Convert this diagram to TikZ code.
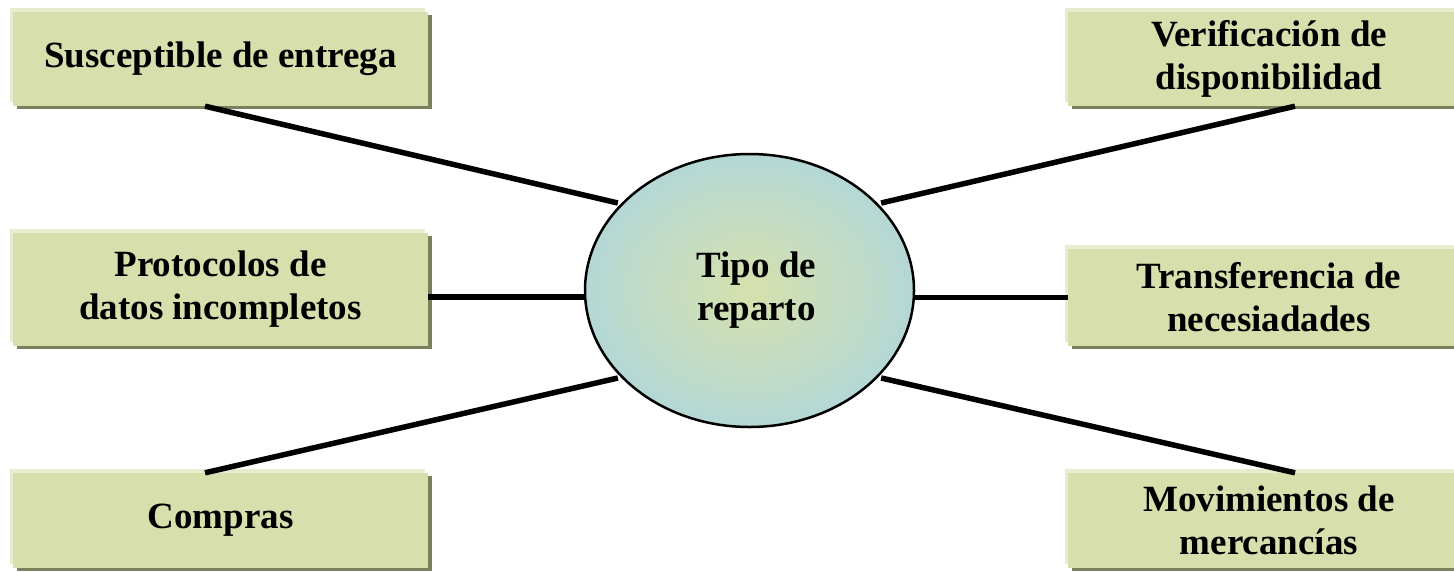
\documentclass[tikz,border=0pt]{standalone}
\usepackage{fontspec}
\setmainfont{Liberation Serif}
\usetikzlibrary{shapes.geometric,shadows}
\definecolor{boxfill}{RGB}{215,224,173}
\definecolor{boxshade}{RGB}{124,126,92}
\definecolor{boxlight}{RGB}{231,236,206}
\definecolor{hubout}{RGB}{180,216,214}
\definecolor{hubin}{RGB}{214,225,172}
\begin{document}
\begin{tikzpicture}[x=1pt,y=-1pt,
  lbl/.style={font=\fontsize{37}{43}\selectfont\bfseries, align=center, text=black},
  tbox/.style={lbl, rectangle, inner sep=0pt, fill=boxfill,
    general shadow={shadow xshift=-3pt, shadow yshift=4pt, fill=boxlight},
    general shadow={shadow xshift=4pt, shadow yshift=-3pt, fill=boxshade}},
  link/.style={line width=5.5pt, black, shorten >=3pt},
]
\useasboundingbox (0,0) rectangle (1454,571);
\clip (0,0) rectangle (1454,571);
\fill[white] (0,0) rectangle (1454,571);

\node[tbox, minimum width=415pt, minimum height=94pt] (A) at (220.5,59) {Susceptible de entrega};
\node[tbox, minimum width=415pt, minimum height=113pt] (B) at (220.5,289.5) {Protocolos de\\datos incompletos};
\node[tbox, minimum width=415pt, minimum height=95pt] (C) at (220.5,520.5) {Compras};
\node[tbox, minimum width=402pt, minimum height=94pt] (D) at (1269,59) {Verificación de\\disponibilidad};
\node[tbox, minimum width=402pt, minimum height=97pt] (E) at (1269,297.5) {Transferencia de\\necesiadades};
\node[tbox, minimum width=402pt, minimum height=95pt] (F) at (1269,520.5) {Movimientos de\\mercancías};

\node[lbl, ellipse, minimum width=329pt, minimum height=273pt, inner sep=0pt,
  draw=black, line width=2.5pt, inner color=hubin, outer color=hubout] (hub) at (749.5,290.5) {\hspace*{14pt}Tipo de\\\hspace*{14pt}reparto};

\draw[link] ([xshift=-15.5pt]A.south) -- (hub.146);
\draw[link] ([xshift=26pt]D.south) -- (hub.34);
\draw[link] ([xshift=-15.5pt]C.north) -- (hub.214);
\draw[link] ([xshift=26pt]F.north) -- (hub.326);
\coordinate (bm) at ([yshift=-7.5pt]B.east);
\draw[link, shorten >=0pt] (bm) -- (bm -| hub.west);
\draw[link, shorten >=0pt] (E.west) -- (E.west -| hub.east);
\end{tikzpicture}
\end{document}
